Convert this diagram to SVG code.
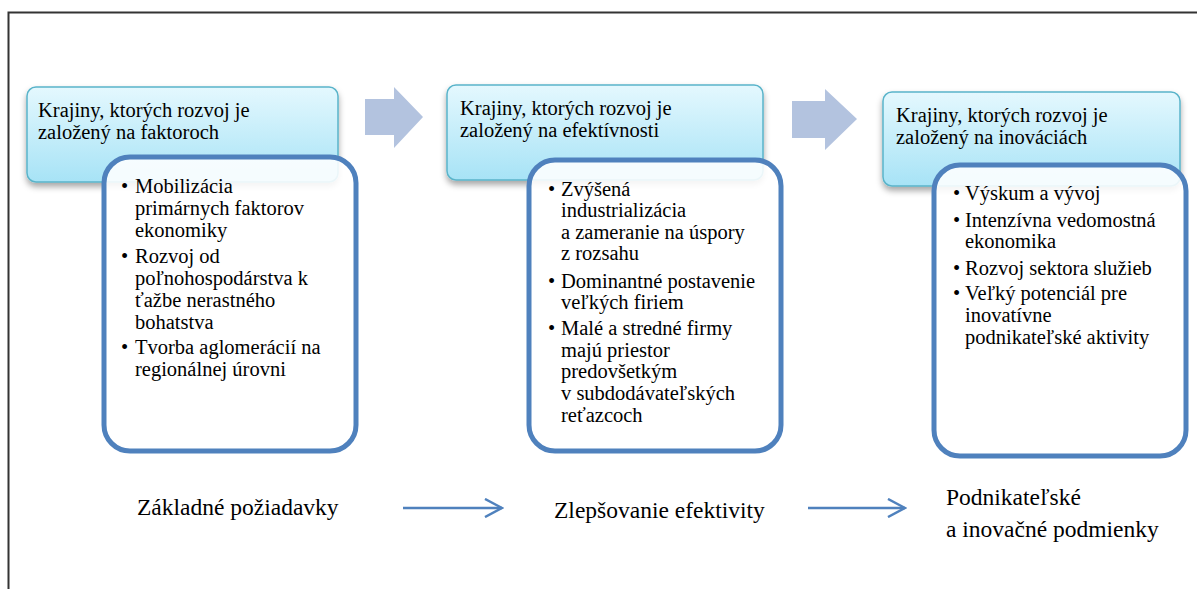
<svg xmlns="http://www.w3.org/2000/svg" width="1197" height="589" viewBox="0 0 1197 589">
  <defs>
    <linearGradient id="headFill" x1="0" y1="0" x2="0" y2="1">
      <stop offset="0" stop-color="#e4f8fe"/>
      <stop offset="1" stop-color="#a7e3f6"/>
    </linearGradient>
    <filter id="shadow" x="-10%" y="-10%" width="120%" height="130%">
      <feDropShadow dx="0" dy="4" stdDeviation="3" flood-color="#000" flood-opacity="0.35"/>
    </filter>
    <marker id="openArrow" viewBox="0 0 20 20" refX="18" refY="10" markerWidth="20" markerHeight="20" markerUnits="userSpaceOnUse" orient="auto">
      <path d="M1,1 L18,10 L1,19" fill="none" stroke="#4f81bd" stroke-width="2.5"/>
    </marker>
    <style>
      .frame { stroke: #333; stroke-width: 2; fill: none; }
      .head { fill: url(#headFill); stroke: #5ab4ca; stroke-width: 1.5; filter: url(#shadow); }
      .body { fill: #ffffff; fill-opacity: 0.88; stroke: #4f81bd; stroke-width: 5; }
      .block { fill: #b3c3df; }
      .conn { stroke: #4f81bd; stroke-width: 2.5; fill: none; marker-end: url(#openArrow); }
      text { font-family: "Liberation Serif", "Times New Roman", serif; fill: #000; }
      .ht { font-size: 20.5px; }
      .bt { font-size: 20.5px; }
      .lbl { font-size: 23.5px; }
    </style>
  </defs>

  <!-- page frame -->
  <path class="frame" d="M8.5,589 L8.5,12.5 L1197,12.5"/>

  <!-- stage 1: factor-driven -->
  <g id="stage1">
    <rect class="head" x="27" y="87" width="311" height="95" rx="9"/>
    <text class="ht" x="38" y="117">Krajiny, ktorých rozvoj je</text>
    <text class="ht" x="38" y="138.5">založený na faktoroch</text>
    <rect class="body" x="104" y="157" width="252" height="294" rx="26"/>
    <text class="bt">
      <tspan x="121" y="193">•</tspan><tspan x="135" y="193">Mobilizácia</tspan>
      <tspan x="135" y="215">primárnych faktorov</tspan>
      <tspan x="135" y="237">ekonomiky</tspan>
      <tspan x="121" y="263">•</tspan><tspan x="135" y="263">Rozvoj od</tspan>
      <tspan x="135" y="285">poľnohospodárstva k</tspan>
      <tspan x="135" y="307">ťažbe nerastného</tspan>
      <tspan x="135" y="329">bohatstva</tspan>
      <tspan x="121" y="354">•</tspan><tspan x="135" y="354">Tvorba aglomerácií na</tspan>
      <tspan x="135" y="376">regionálnej úrovni</tspan>
    </text>
  </g>

  <!-- stage 2: efficiency-driven -->
  <g id="stage2">
    <rect class="head" x="447" y="85" width="316" height="95" rx="9"/>
    <text class="ht" x="460" y="115">Krajiny, ktorých rozvoj je</text>
    <text class="ht" x="460" y="137">založený na efektívnosti</text>
    <rect class="body" x="529" y="160" width="252" height="291" rx="26"/>
    <text class="bt">
      <tspan x="548" y="196">•</tspan><tspan x="561" y="196">Zvýšená</tspan>
      <tspan x="561" y="217">industrializácia</tspan>
      <tspan x="561" y="239">a zameranie na úspory</tspan>
      <tspan x="561" y="260">z rozsahu</tspan>
      <tspan x="548" y="288">•</tspan><tspan x="561" y="288">Dominantné postavenie</tspan>
      <tspan x="561" y="309">veľkých firiem</tspan>
      <tspan x="548" y="335">•</tspan><tspan x="561" y="335">Malé a stredné firmy</tspan>
      <tspan x="561" y="357">majú priestor</tspan>
      <tspan x="561" y="378">predovšetkým</tspan>
      <tspan x="561" y="400">v subdodávateľských</tspan>
      <tspan x="561" y="422">reťazcoch</tspan>
    </text>
  </g>

  <!-- stage 3: innovation-driven -->
  <g id="stage3">
    <rect class="head" x="883" y="92" width="297" height="94" rx="9"/>
    <text class="ht" x="896" y="122">Krajiny, ktorých rozvoj je</text>
    <text class="ht" x="896" y="143.5">založený na inováciách</text>
    <rect class="body" x="934" y="165" width="252" height="291" rx="26"/>
    <text class="bt">
      <tspan x="953" y="200">•</tspan><tspan x="965" y="200">Výskum a vývoj</tspan>
      <tspan x="953" y="227">•</tspan><tspan x="965" y="227">Intenzívna vedomostná</tspan>
      <tspan x="965" y="248">ekonomika</tspan>
      <tspan x="953" y="275">•</tspan><tspan x="965" y="275">Rozvoj sektora služieb</tspan>
      <tspan x="953" y="300">•</tspan><tspan x="965" y="300">Veľký potenciál pre</tspan>
      <tspan x="965" y="322">inovatívne</tspan>
      <tspan x="965" y="344">podnikateľské aktivity</tspan>
    </text>
  </g>

  <!-- phase labels -->
  <g id="label1">
    <text class="lbl" x="137" y="515">Základné požiadavky</text>
  </g>
  <g id="label2">
    <text class="lbl" x="554" y="518">Zlepšovanie efektivity</text>
  </g>
  <g id="label3">
    <text class="lbl" x="946" y="505">Podnikateľské</text>
    <text class="lbl" x="946" y="537">a inovačné podmienky</text>
  </g>

  <!-- connectors: block arrows between stages, line arrows between phases -->
  <g id="connectors">
    <path class="block" d="M365,99 L394,99 L394,87 L423,117 L394,148 L394,135 L365,135 Z"/>
    <path class="block" d="M792,101 L825,101 L825,89 L857,119 L825,150 L825,138 L792,138 Z"/>
    <line class="conn" x1="403" y1="508" x2="502" y2="508"/>
    <line class="conn" x1="808" y1="508" x2="905" y2="508"/>
  </g>
</svg>
